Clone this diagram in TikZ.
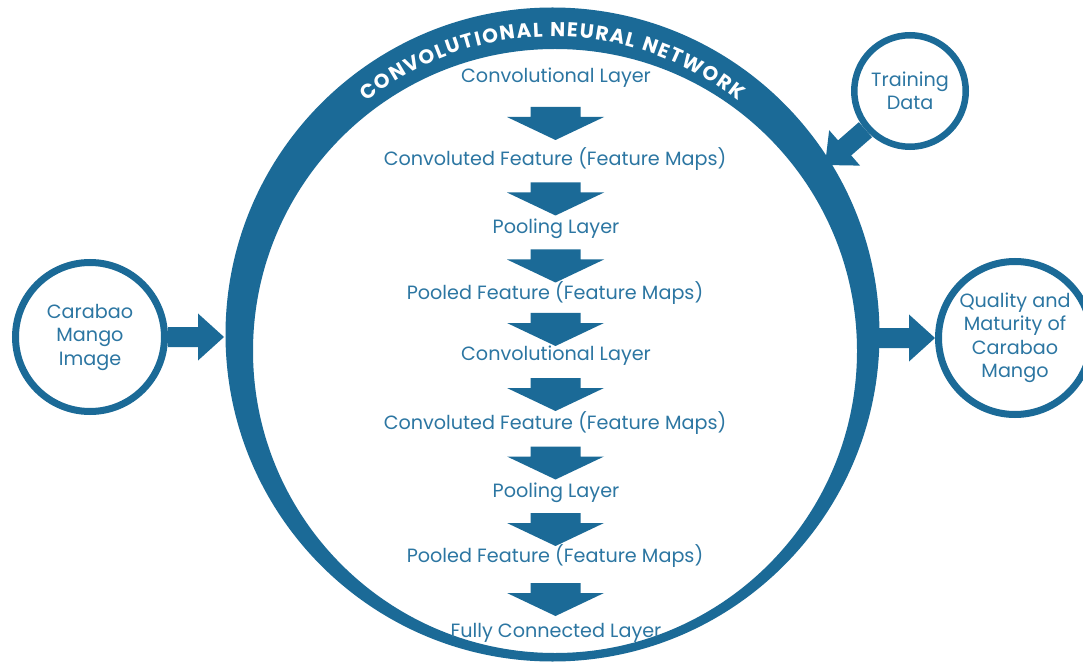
\documentclass[tikz,border=0pt]{standalone}
\usepackage{fontspec}
\setmainfont{Poppins}
\usetikzlibrary{calc,decorations.text}
\definecolor{cnnblue}{HTML}{1B6A97}
\definecolor{labelblue}{HTML}{2C76A2}

% downward block arrow placed between two stacked labels
\newcommand\flowstep[2]{%
  \fill[cnnblue, shift={($(#1.center)!0.5!(#2.center)+(0,-5)$)}]
    (-25,16.5) -- (25,16.5) -- (25,6.5) -- (48.5,6.5) -- (0,-16.5)
    -- (-48.5,6.5) -- (-25,6.5) -- cycle;}

% thick block arrow from one point to another
\newcommand\fatlink[2]{%
  \fill[cnnblue] let \p1=(#1), \p2=(#2),
      \n1={atan2(\y2-\y1,\x2-\x1)}, \n2={veclen(\x2-\x1,\y2-\y1)} in
    [shift={(\p1)}, rotate=\n1]
    (0,-10) -- (\n2-26,-10) -- (\n2-26,-23.5) -- (\n2,0)
    -- (\n2-26,23.5) -- (\n2-26,10) -- (0,10) -- cycle;}

\begin{document}
\begin{tikzpicture}[x=1pt,y=1pt,
  layer/.style={text=labelblue, font=\fontsize{19.2}{22}\selectfont, inner sep=1pt},
  io/.style={circle, draw=cnnblue, line width=7pt, fill=white, text=labelblue,
    align=center, inner sep=0pt, font=\fontsize{19.2}{23.5}\selectfont},
]
\fill[white] (0,0) rectangle (1083,662);
\useasboundingbox (0,0) rectangle (1083,662);
\clip (0,0) rectangle (1083,662);

% network ring
\coordinate (cnnOut) at (552.5,327.5);
\coordinate (cnnIn) at (555,311);
\fill[cnnblue, even odd rule] (cnnOut) circle[radius=327] (cnnIn) circle[radius=302];
\path[decorate, decoration={text along path,
    text={|\color{white}\bfseries\fontsize{20}{20}\selectfont|CONVOLUTIONAL NEURAL NETWORK},
    text align={fit to path}}]
  ($(cnnOut)+(128.6:298)$) arc[start angle=128.6, end angle=51.5, radius=298];

\coordinate (ringW) at (224,325);
\coordinate (ringE) at (874,324);
\coordinate (ringNE) at (825,497);

% layers inside the network
\node[layer] (s1) at (556,584) {Convolutional Layer};
\node[layer] (s2) at (555,503) {Convoluted Feature (Feature Maps)};
\node[layer] (s3) at (556,433) {Pooling Layer};
\node[layer] (s4) at (555,369) {Pooled Feature (Feature Maps)};
\node[layer] (s5) at (556,306) {Convolutional Layer};
\node[layer] (s6) at (555,239) {Convoluted Feature (Feature Maps)};
\node[layer] (s7) at (556,169) {Pooling Layer};
\node[layer] (s8) at (555,106) {Pooled Feature (Feature Maps)};
\node[layer] (s9) at (556,29) {Fully Connected Layer};

\flowstep{s1}{s2}
\flowstep{s2}{s3}
\flowstep{s3}{s4}
\flowstep{s4}{s5}
\flowstep{s5}{s6}
\flowstep{s6}{s7}
\flowstep{s7}{s8}
\flowstep{s8}{s9}

% inputs and output
\node[io, minimum size=149pt] (img) at (90,325) {Carabao\\Mango\\Image};
\node[io, minimum size=153pt] (qual) at (1015,324) {Quality and\\Maturity of\\Carabao\\Mango};
\node[io, line width=6.5pt, minimum size=111.5pt] (train) at (910,571) {Training\\Data};

\fatlink{img.east}{ringW}
\fatlink{ringE}{qual.west}
\fatlink{train.221}{ringNE}
\end{tikzpicture}
\end{document}
